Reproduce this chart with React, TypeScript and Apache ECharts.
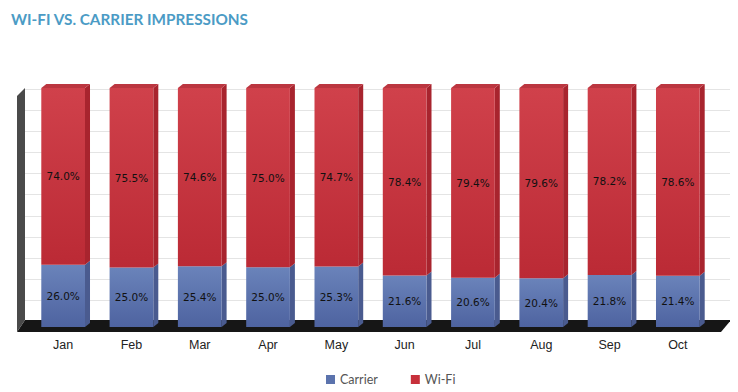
import React, { useEffect, useRef } from "react";
import * as echarts from "echarts";

const months = ["Jan", "Feb", "Mar", "Apr", "May", "Jun", "Jul", "Aug", "Sep", "Oct"];
const carrier = [26.0, 25.0, 25.4, 25.0, 25.3, 21.6, 20.6, 20.4, 21.8, 21.4];
const wifi = [74.0, 75.5, 74.6, 75.0, 74.7, 78.4, 79.4, 79.6, 78.2, 78.6];
const seriesNames = ["Carrier", "Wi-Fi"];

const DX = 5;
const DY = 4;

function makeRender(front: [string, string], side: string, topColor: string | null) {
  return (params: any, api: any) => {
    const xi = api.value(0);
    const s = api.value(1);
    const e = api.value(2);
    const v = api.value(3);
    const bot = api.coord([xi, s]);
    const top = api.coord([xi, e]);
    const band = api.size([1, 0])[0];
    const w = band * 0.64;
    const x0 = bot[0] - w / 2;
    const x1 = bot[0] + w / 2;
    const children: any[] = [
      {
        type: "polygon",
        shape: { points: [[x1, top[1]], [x1 + DX, top[1] - DY], [x1 + DX, bot[1] - DY], [x1, bot[1]]] },
        style: { fill: side },
      },
      {
        type: "rect",
        shape: { x: x0, y: top[1], width: w, height: bot[1] - top[1] },
        style: {
          fill: new echarts.graphic.LinearGradient(0, 0, 0, 1, [
            { offset: 0, color: front[0] },
            { offset: 1, color: front[1] },
          ]),
        },
      },
    ];
    if (topColor) {
      children.push({
        type: "polygon",
        shape: { points: [[x0, top[1]], [x0 + DX, top[1] - DY], [x1 + DX, top[1] - DY], [x1, top[1]]] },
        style: { fill: topColor },
      });
    }
    children.push({
      type: "text",
      style: {
        x: bot[0],
        y: (top[1] + bot[1]) / 2,
        text: Number(v).toFixed(1) + "%",
        align: "center",
        verticalAlign: "middle",
        fill: "#111",
        fontSize: 10.5,
        fontFamily: "DejaVu Sans",
      },
    });
    return { type: "group", children };
  };
}

export default function App() {
  const ref = useRef<HTMLDivElement>(null);
  useEffect(() => {
    if (!ref.current) return;
    const chart = echarts.init(ref.current, null, { renderer: "svg" });
    // 100% stacked: each column is shown as share of its total
    const share = months.map((_, i) => (carrier[i] / (carrier[i] + wifi[i])) * 100);
    const carrierData = months.map((_, i) => [i, 0, share[i], carrier[i]]);
    const wifiData = months.map((_, i) => [i, share[i], 100, wifi[i]]);
    chart.setOption({
      animation: false,
      backgroundColor: "#ffffff",
      title: {
        text: "WI-FI VS. CARRIER IMPRESSIONS",
        left: 6,
        top: 6,
        textStyle: { fontSize: 15.3, fontWeight: "bold", color: "#4b9bc5", fontFamily: "Lato" },
      },
      legend: {
        data: seriesNames,
        left: 321,
        top: 368,
        icon: "rect",
        itemWidth: 9,
        itemHeight: 9,
        itemGap: 33,
        textStyle: { fontSize: 12.5, color: "#555", fontFamily: "Lato" },
      },
      grid: [
        { left: 29, right: 26, top: 88, bottom: 65 },
        { left: 25, right: 8, top: 89, bottom: 70.5 },
      ],
      xAxis: [
        {
          type: "category",
          gridIndex: 0,
          data: months,
          axisLine: { show: false },
          axisTick: { show: false },
          axisLabel: { margin: 11, fontSize: 12.5, color: "#222", fontFamily: "Liberation Sans" },
        },
        { type: "value", gridIndex: 1, show: false, min: 0, max: 1 },
      ],
      yAxis: [
        { type: "value", gridIndex: 0, min: 0, max: 100, show: false },
        {
          type: "value",
          gridIndex: 1,
          min: 0,
          max: 11,
          interval: 1,
          axisLine: { show: false },
          axisTick: { show: false },
          axisLabel: { show: false },
          splitLine: { lineStyle: { color: "#e4e4e4", width: 1 } },
        },
      ],
      graphic: [
        {
          type: "polygon",
          z: 1,
          shape: { points: [[25, 320], [731, 320], [721, 332], [17, 332]] },
          style: { fill: "#161616" },
        },
        {
          type: "polygon",
          z: 1,
          shape: { points: [[17, 96], [25, 88], [25, 320], [17, 332]] },
          style: { fill: "#4a4a4a" },
        },
      ],
      series: [
        {
          type: "custom",
          name: "Carrier",
          xAxisIndex: 0,
          yAxisIndex: 0,
          z: 3,
          itemStyle: { color: "#5b73ad" },
          renderItem: makeRender(["#6a83ba", "#4e63a0"], "#4a5b8f", null),
          data: carrierData,
        },
        {
          type: "custom",
          name: "Wi-Fi",
          xAxisIndex: 0,
          yAxisIndex: 0,
          z: 3,
          itemStyle: { color: "#c7303b" },
          renderItem: makeRender(["#d0414b", "#bb2a35"], "#a8242e", "#bb3640"),
          data: wifiData,
        },
      ],
    });
    return () => chart.dispose();
  }, []);
  return <div ref={ref} style={{ width: 738, height: 392, marginLeft: -8, marginTop: -8 }} />;
}
